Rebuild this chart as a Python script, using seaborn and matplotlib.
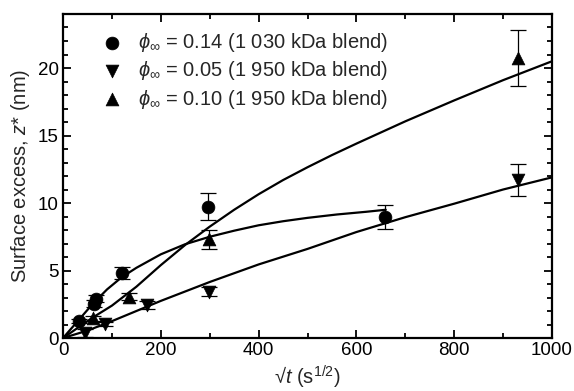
import numpy as np
import pandas as pd
import matplotlib
matplotlib.use("Agg")
import matplotlib.pyplot as plt
import seaborn as sns
from matplotlib.ticker import MultipleLocator

# Measured surface excess versus square root of annealing time
x_014 = [33, 64, 68, 121, 296, 658]
z_014 = [1.28, 2.55, 2.9, 4.83, 9.71, 8.97]
e_014 = [0.15, 0.25, 0.25, 0.45, 1.0, 0.9]

x_005 = [45, 86, 171, 299, 931]
z_005 = [0.4, 1.05, 2.44, 3.43, 11.69]
e_005 = [0.3, 0.15, 0.3, 0.35, 1.17]

x_010 = [62, 135, 299, 931]
z_010 = [1.45, 3.05, 7.3, 20.76]
e_010 = [0.2, 0.25, 0.7, 2.07]

# Model curves
fx_014 = [0, 30, 60, 90, 120, 150, 200, 250, 300, 350, 400, 450, 500, 560, 620, 660]
fz_014 = [0, 1.25, 2.5, 3.6, 4.5, 5.2, 6.2, 6.95, 7.5, 7.95, 8.35, 8.65, 8.9, 9.15, 9.35, 9.5]

fx_005 = [0, 50, 100, 200, 300, 400, 500, 600, 700, 800, 900, 1000]
fz_005 = [0, 0.55, 1.25, 2.75, 4.15, 5.45, 6.6, 7.85, 8.95, 9.95, 11.0, 11.9]

fx_010 = [0, 60, 100, 150, 200, 250, 300, 350, 400, 450, 500, 550, 600, 700, 800, 900, 1000]
fz_010 = [0, 1.5, 2.4, 3.8, 5.4, 6.9, 8.25, 9.5, 10.65, 11.7, 12.65, 13.55, 14.4, 16.05, 17.6, 19.1, 20.5]

labels = [r"$\phi_\infty$ = 0.14 (1 030 kDa blend)",
          r"$\phi_\infty$ = 0.05 (1 950 kDa blend)",
          r"$\phi_\infty$ = 0.10 (1 950 kDa blend)"]
markers = ["o", "v", "^"]

sns.set_theme(style="ticks")
plt.rcParams["font.family"] = ["Liberation Sans", "DejaVu Sans"]
plt.rcParams["mathtext.fontset"] = "custom"
plt.rcParams["mathtext.rm"] = "Liberation Sans"
plt.rcParams["mathtext.it"] = "Liberation Sans:italic"
plt.rcParams["mathtext.bf"] = "Liberation Sans:bold"

TICK_FS = 13.5
LABEL_FS = 14.5

fig = plt.figure(figsize=(5.74, 3.91), dpi=100)
ax = fig.add_axes([0.1098, 0.1355, 0.8519, 0.8287])

fits = [(fx_014, fz_014), (fx_005, fz_005), (fx_010, fz_010)]
for fx, fz in fits:
    sns.lineplot(x=fx, y=fz, ax=ax, color="black", lw=1.6, sort=False,
                 estimator=None, legend=False)

pts = [(x_014, z_014, e_014), (x_005, z_005, e_005), (x_010, z_010, e_010)]
for (xs, zs, es), m, lab in zip(pts, markers, labels):
    ax.errorbar(xs, zs, yerr=es, fmt="none", ecolor="black", elinewidth=0.9,
                capsize=6, capthick=0.9, zorder=3)
    df = pd.DataFrame({"x": xs, "z": zs})
    sns.scatterplot(data=df, x="x", y="z", ax=ax, marker=m, s=85,
                    color="black", edgecolor="black", linewidth=0.5,
                    label=lab, zorder=4)

ax.set_xlim(0, 1000)
ax.set_ylim(0, 24)
ax.xaxis.set_major_locator(MultipleLocator(200))
ax.xaxis.set_minor_locator(MultipleLocator(100))
ax.yaxis.set_major_locator(MultipleLocator(5))
ax.yaxis.set_minor_locator(MultipleLocator(1))
ax.tick_params(which="both", direction="in", top=True, right=True,
               labelsize=TICK_FS, width=1.3, colors="black")
ax.tick_params(which="major", length=6, pad=3)
ax.tick_params(which="minor", length=3.5)
for s in ax.spines.values():
    s.set_linewidth(1.6)
    s.set_color("black")

ax.set_xlabel(r"√$t$ (s$^{1/2}$)", fontsize=LABEL_FS, labelpad=3)
ax.set_ylabel(r"Surface excess, $z$* (nm)", fontsize=LABEL_FS, labelpad=4)

leg = ax.legend(loc="upper left", frameon=False, fontsize=LABEL_FS,
                handletextpad=0.3, borderaxespad=0.45, labelspacing=0.26,
                bbox_to_anchor=(0.024, 1.0))

fig.savefig("out.png", dpi=100)
